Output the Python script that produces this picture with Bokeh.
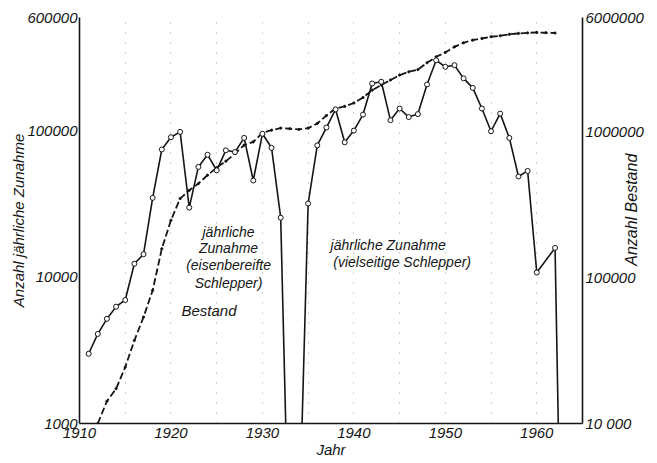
import math
from bokeh.plotting import figure
from bokeh.models import Range1d, LogAxis, LogScale, FixedTicker, Label, BasicTickFormatter
from bokeh.embed import file_html
from bokeh.resources import INLINE

# ---- data ----
zunahme_years = [1911, 1912, 1913, 1914, 1915, 1916, 1917, 1918, 1919, 1920,
                 1921, 1922, 1923, 1924, 1925, 1926, 1927, 1928, 1929, 1930,
                 1931, 1932, 1933, 1934, 1935, 1936, 1937, 1938, 1939, 1940,
                 1941, 1942, 1943, 1944, 1945, 1946, 1947, 1948, 1949, 1950,
                 1951, 1952, 1953, 1954, 1955, 1956, 1957, 1958, 1959, 1960,
                 1962, 1963]
zunahme = [3000, 4100, 5200, 6300, 7000, 12400, 14400, 35000, 75000, 91000,
           99000, 30000, 57000, 69000, 54000, 74000, 72000, 90000, 46000, 96000,
           77000, 25600, 70, 170, 32000, 80000, 106000, 141000, 84000, 101000,
           130000, 212000, 218000, 119000, 143000, 125000, 131000, 209000, 306000, 276000,
           283000, 230000, 198000, 143000, 100000, 132000, 90000, 49000, 53500, 10800,
           15900, 6]

bestand_years = [1912, 1913, 1914, 1915, 1916, 1917, 1918, 1919, 1920, 1921,
                 1922, 1923, 1924, 1925, 1926, 1927, 1928, 1929, 1930, 1931,
                 1932, 1933, 1934, 1935, 1936, 1937, 1938, 1939, 1940, 1941,
                 1942, 1943, 1944, 1945, 1946, 1947, 1948, 1949, 1950, 1951,
                 1952, 1953, 1954, 1955, 1956, 1957, 1958, 1959, 1960, 1961, 1962]
bestand = [10000, 14200, 17300, 24300, 37000, 53500, 81500, 157000, 246000, 346000,
           394000, 438000, 500000, 564000, 623000, 703000, 802000, 845000, 973000, 1016000,
           1050000, 1040000, 1030000, 1050000, 1130000, 1280000, 1430000, 1480000, 1560000, 1700000,
           1910000, 2070000, 2240000, 2420000, 2550000, 2640000, 2940000, 3230000, 3460000, 3780000,
           4030000, 4200000, 4310000, 4430000, 4500000, 4600000, 4670000, 4710000, 4740000, 4720000, 4700000]

x_ticks = [1910, 1920, 1930, 1940, 1950, 1960]
grid_years = [1915, 1920, 1925, 1930, 1935, 1940, 1945, 1950, 1955, 1960]
left_ticks = [1000, 10000, 100000, 600000]
left_labels = ["1000", "10000", "100000", "600000"]
right_ticks = [10000, 100000, 1000000, 6000000]
right_labels = ["10 000", "100000", "1000000", "6000000"]

FONT = "Liberation Sans"
INK = "#151515"

p = figure(width=657, height=463, output_backend="svg", toolbar_location=None,
           x_range=Range1d(1910, 1965), y_range=Range1d(1000, 600000),
           y_axis_type="log",
           min_border_left=79, min_border_right=75, min_border_top=17, min_border_bottom=40)
p.extra_y_ranges = {"bestand": Range1d(10000, 6000000)}
p.extra_y_scales = {"bestand": LogScale()}
p.outline_line_color = None
p.background_fill_color = "white"
p.border_fill_color = "white"

# grid: sparse dotted verticals
p.xgrid.ticker = FixedTicker(ticks=grid_years)
p.xgrid.grid_line_color = "#777777"
p.xgrid.grid_line_dash = "1 9"
p.xgrid.grid_line_alpha = 0.7
p.ygrid.grid_line_color = None

# axes
xa = p.xaxis[0]
xa.ticker = FixedTicker(ticks=x_ticks)
xa.major_label_overrides = {t: str(t) for t in x_ticks}
ya = p.yaxis[0]
ya.ticker = FixedTicker(ticks=left_ticks)
ya.formatter = BasicTickFormatter(use_scientific=False)
ya.major_label_overrides = dict(zip(left_ticks, left_labels))

ra = LogAxis(y_range_name="bestand", ticker=FixedTicker(ticks=right_ticks),
             formatter=BasicTickFormatter(use_scientific=False))
ra.major_label_overrides = dict(zip(right_ticks, right_labels))
p.add_layout(ra, "right")

for ax in (xa, ya, ra):
    ax.axis_line_color = INK
    ax.axis_line_width = 1.6
    ax.major_tick_line_color = INK
    ax.major_tick_in = 0
    ax.major_tick_out = 0
    ax.minor_tick_line_color = None
    ax.major_label_text_font = FONT
    ax.major_label_text_font_style = "italic"
    ax.major_label_text_font_size = "15px"
    ax.major_label_text_color = INK
    ax.axis_label_text_font = FONT
    ax.axis_label_text_font_style = "italic"
    ax.axis_label_text_font_size = "15px"
    ax.axis_label_text_color = INK
xa.major_label_standoff = 4
ya.major_label_standoff = 2
ra.major_label_standoff = 3

xa.axis_label = "Jahr"
xa.axis_label_standoff = 0
ya.axis_label = "Anzahl jährliche Zunahme"
ya.axis_label_standoff = -3

# right-hand title, read bottom-to-top, placed as a single rotated tick label
right_title = "Anzahl Bestand"
right_title_at = 120000   # Bestand level where the title text starts
rt = LogAxis(y_range_name="bestand", ticker=FixedTicker(ticks=[right_title_at]),
             formatter=BasicTickFormatter(use_scientific=False))
rt.major_label_overrides = {right_title_at: right_title}
rt.major_label_orientation = math.pi / 2
rt.axis_line_color = None
rt.major_tick_line_color = None
rt.minor_tick_line_color = None
rt.major_tick_in = 0
rt.major_tick_out = 0
rt.major_label_standoff = -15
rt.major_label_text_font = FONT
rt.major_label_text_font_style = "italic"
rt.major_label_text_font_size = "16px"
rt.major_label_text_color = INK
p.add_layout(rt, "right")

# series
p.line(bestand_years, bestand, y_range_name="bestand", line_color=INK,
       line_width=1.8, line_dash="7 3")
p.scatter(bestand_years, bestand, y_range_name="bestand", size=2.2,
          marker="circle", fill_color=INK, line_color=INK)

p.line(zunahme_years, zunahme, line_color=INK, line_width=1.6)
p.scatter(zunahme_years, zunahme, size=5, marker="circle",
          fill_color="white", line_color=INK, line_width=1)

def txt(x, y, s, align="left", size="14px"):
    p.add_layout(Label(x=x, y=y, text=s, text_align=align, text_baseline="middle",
                       text_font=FONT, text_font_style="italic", text_font_size=size,
                       text_color=INK))

txt(1926.3, 20300, "jährliche", "center")
txt(1926.3, 15800, "Zunahme", "center")
txt(1926.3, 12100, "(eisenbereifte", "center")
txt(1926.3, 9100, "Schlepper)", "center")
txt(1921.15, 5940, "Bestand", "left", "15px")
txt(1937.45, 16560, "jährliche Zunahme", "left")
txt(1937.75, 12670, "(vielseitige Schlepper)", "left")

open("out.html", "w").write(file_html(p, INLINE))
